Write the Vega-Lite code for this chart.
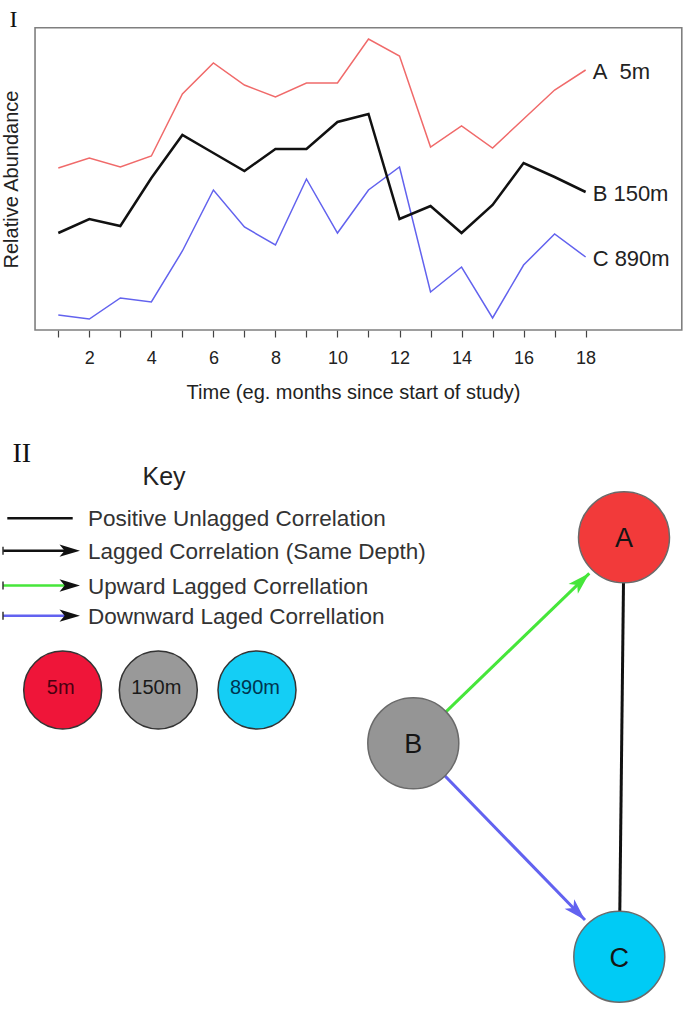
{
  "$schema": "https://vega.github.io/schema/vega-lite/v6.json",
  "width": 683,
  "height": 1009,
  "autosize": {"type": "none"},
  "padding": 0,
  "background": "white",
  "config": {"view": {"stroke": null}, "font": "Liberation Sans", "axis": {"grid": false}},
  "datasets": {
    "abundance": [
      {"series": "A", "t": 1, "v": 162}, {"series": "A", "t": 2, "v": 172}, {"series": "A", "t": 3, "v": 163},
      {"series": "A", "t": 4, "v": 174}, {"series": "A", "t": 5, "v": 236}, {"series": "A", "t": 6, "v": 267},
      {"series": "A", "t": 7, "v": 245}, {"series": "A", "t": 8, "v": 233}, {"series": "A", "t": 9, "v": 247},
      {"series": "A", "t": 10, "v": 247}, {"series": "A", "t": 11, "v": 291}, {"series": "A", "t": 12, "v": 274},
      {"series": "A", "t": 13, "v": 183}, {"series": "A", "t": 14, "v": 204}, {"series": "A", "t": 15, "v": 182},
      {"series": "A", "t": 16, "v": 211}, {"series": "A", "t": 17, "v": 240}, {"series": "A", "t": 18, "v": 260},
      {"series": "B", "t": 1, "v": 97}, {"series": "B", "t": 2, "v": 111}, {"series": "B", "t": 3, "v": 104},
      {"series": "B", "t": 4, "v": 152}, {"series": "B", "t": 5, "v": 195}, {"series": "B", "t": 6, "v": 177},
      {"series": "B", "t": 7, "v": 159}, {"series": "B", "t": 8, "v": 181}, {"series": "B", "t": 9, "v": 181},
      {"series": "B", "t": 10, "v": 208}, {"series": "B", "t": 11, "v": 216}, {"series": "B", "t": 12, "v": 111},
      {"series": "B", "t": 13, "v": 124}, {"series": "B", "t": 14, "v": 97}, {"series": "B", "t": 15, "v": 125},
      {"series": "B", "t": 16, "v": 167}, {"series": "B", "t": 17, "v": 153}, {"series": "B", "t": 18, "v": 138},
      {"series": "C", "t": 1, "v": 15}, {"series": "C", "t": 2, "v": 11}, {"series": "C", "t": 3, "v": 32},
      {"series": "C", "t": 4, "v": 28}, {"series": "C", "t": 5, "v": 79}, {"series": "C", "t": 6, "v": 140},
      {"series": "C", "t": 7, "v": 103}, {"series": "C", "t": 8, "v": 85}, {"series": "C", "t": 9, "v": 151},
      {"series": "C", "t": 10, "v": 97}, {"series": "C", "t": 11, "v": 140}, {"series": "C", "t": 12, "v": 163},
      {"series": "C", "t": 13, "v": 38}, {"series": "C", "t": 14, "v": 63}, {"series": "C", "t": 15, "v": 12},
      {"series": "C", "t": 16, "v": 65}, {"series": "C", "t": 17, "v": 96}, {"series": "C", "t": 18, "v": 73}
    ],
    "seriesLabels": [
      {"series": "A", "label": "A\u00a0\u00a05m"},
      {"series": "B", "label": "B 150m"},
      {"series": "C", "label": "C 890m"}
    ],
    "nodes": [
      {"node": "A", "depth": "5m", "x": 624, "y": 107.3},
      {"node": "B", "depth": "150m", "x": 413.3, "y": 313.3},
      {"node": "C", "depth": "890m", "x": 619.3, "y": 526.7}
    ],
    "edges": [
      {"from": "A", "to": "C", "kind": "unlagged", "x": 624, "y": 107.3, "x2": 619.3, "y2": 526.7},
      {"from": "B", "to": "A", "kind": "upward", "x": 413.3, "y": 313.3, "x2": 589.3, "y2": 143.3},
      {"from": "B", "to": "C", "kind": "downward", "x": 413.3, "y": 313.3, "x2": 585, "y2": 490}
    ],
    "key": [
      {"kind": "unlagged", "label": "Positive Unlagged Correlation", "y": 88.3},
      {"kind": "lagged", "label": "Lagged Correlation (Same Depth)", "y": 120.7},
      {"kind": "upward", "label": "Upward Lagged Correllation", "y": 155.5},
      {"kind": "downward", "label": "Downward Laged Correllation", "y": 185.7}
    ],
    "depths": [
      {"depth": "5m", "x": 62.7, "y": 260},
      {"depth": "150m", "x": 158.3, "y": 260},
      {"depth": "890m", "x": 257, "y": 260}
    ],
    "annotations": [
      {"text": "I", "x": 9.6, "y": -403.3},
      {"text": "II", "x": 12.5, "y": 32},
      {"text": "Key", "x": 164, "y": 55}
    ]
  },
  "layer": [
    {
      "layer": [
        {
          "data": {"name": "abundance"},
          "transform": [{"filter": "datum.series !== 'B'"}],
          "mark": {"type": "line", "strokeWidth": 1.5},
          "encoding": {
            "x": {
              "field": "t", "type": "quantitative",
              "scale": {"domain": [-0.8794, 21.139], "nice": false, "zero": false},
              "axis": {
                "title": "Time (eg. months since start of study)", "orient": "bottom", "offset": -679,
                "domain": false, "values": [1, 2, 3, 4, 5, 6, 7, 8, 9, 10, 11, 12, 13, 14, 15, 16, 17, 18],
                "tickSize": 7, "tickWidth": 1.2, "tickColor": "#444444",
                "labelExpr": "datum.value % 2 === 0 ? datum.label : ''",
                "labelFontSize": 18, "labelColor": "#222222", "labelPadding": 12,
                "labelOverlap": false, "labelFlush": false,
                "titleFontSize": 20, "titleFontWeight": "normal", "titleColor": "#222222",
                "titlePadding": 15, "titleX": 353
              }
            },
            "y": {
              "field": "v", "type": "quantitative",
              "scale": {"domain": [-679, 330], "nice": false, "zero": false},
              "axis": {
                "title": "Relative Abundance", "orient": "left", "offset": -35,
                "domain": false, "ticks": false, "labels": false,
                "titleFontSize": 20, "titleFontWeight": "normal", "titleColor": "#222222",
                "titlePadding": 14, "titleY": 179
              }
            },
            "color": {"field": "series", "type": "nominal", "scale": {"domain": ["A", "B", "C"], "range": ["#f06a6a", "#111111", "#6262ee"]}, "legend": null}
          }
        },
        {
          "data": {"values": [{}]},
          "mark": {"type": "rect", "fill": "white", "fillOpacity": 0, "stroke": "#7f7f7f", "strokeWidth": 1.6},
          "encoding": {
            "x": {"datum": 0.25, "type": "quantitative", "scale": {"domain": [-0.8794, 21.139], "nice": false, "zero": false}},
            "x2": {"datum": 21.1},
            "y": {"datum": 0, "type": "quantitative", "scale": {"domain": [-679, 330], "nice": false, "zero": false}},
            "y2": {"datum": 302.3}
          }
        },
        {
          "data": {"name": "abundance"},
          "transform": [{"filter": "datum.series === 'B'"}],
          "mark": {"type": "line", "strokeWidth": 2.5},
          "encoding": {
            "x": {"field": "t", "type": "quantitative", "scale": {"domain": [-0.8794, 21.139], "nice": false, "zero": false}},
            "y": {"field": "v", "type": "quantitative", "scale": {"domain": [-679, 330], "nice": false, "zero": false}},
            "color": {"field": "series", "type": "nominal", "scale": {"domain": ["A", "B", "C"], "range": ["#f06a6a", "#111111", "#6262ee"]}, "legend": null}
          }
        },
        {
          "data": {"name": "abundance"},
          "transform": [
            {"filter": "datum.t === 18"},
            {"lookup": "series", "from": {"data": {"name": "seriesLabels"}, "key": "series", "fields": ["label"]}}
          ],
          "mark": {"type": "text", "align": "left", "baseline": "middle", "dx": 7, "dy": 2, "fontSize": 22, "color": "#222222"},
          "encoding": {
            "x": {"field": "t", "type": "quantitative", "scale": {"domain": [-0.8794, 21.139], "nice": false, "zero": false}},
            "y": {"field": "v", "type": "quantitative", "scale": {"domain": [-679, 330], "nice": false, "zero": false}},
            "text": {"field": "label"}
          }
        }
      ]
    },
    {
      "layer": [
        {
          "data": {"name": "edges"},
          "mark": {"type": "rule", "strokeWidth": 3},
          "encoding": {
            "x": {"field": "x", "type": "quantitative", "scale": {"domain": [0, 683], "nice": false, "zero": false}, "axis": null},
            "y": {"field": "y", "type": "quantitative", "scale": {"domain": [-430, 579], "reverse": true, "nice": false, "zero": false}, "axis": null},
            "x2": {"field": "x2"},
            "y2": {"field": "y2"},
            "stroke": {"field": "kind", "type": "nominal", "scale": {"domain": ["unlagged", "lagged", "upward", "downward"], "range": ["#111111", "#111111", "#46e63a", "#6262f0"]}, "legend": null}
          }
        },
        {
          "data": {"name": "edges"},
          "transform": [{"filter": "datum.kind === 'upward'"}],
          "mark": {"type": "point", "shape": "M0,0L-2,-0.6L-1.5,0L-2,0.6Z", "filled": true, "opacity": 1, "fill": "#46e63a", "size": 500, "angle": -44},
          "encoding": {
            "x": {"field": "x2", "type": "quantitative", "scale": {"domain": [0, 683], "nice": false, "zero": false}, "axis": null},
            "y": {"field": "y2", "type": "quantitative", "scale": {"domain": [-430, 579], "reverse": true, "nice": false, "zero": false}, "axis": null}
          }
        },
        {
          "data": {"name": "edges"},
          "transform": [{"filter": "datum.kind === 'downward'"}],
          "mark": {"type": "point", "shape": "M0,0L-2,-0.6L-1.5,0L-2,0.6Z", "filled": true, "opacity": 1, "fill": "#6262f0", "size": 500, "angle": 45.8},
          "encoding": {
            "x": {"field": "x2", "type": "quantitative", "scale": {"domain": [0, 683], "nice": false, "zero": false}, "axis": null},
            "y": {"field": "y2", "type": "quantitative", "scale": {"domain": [-430, 579], "reverse": true, "nice": false, "zero": false}, "axis": null}
          }
        },
        {
          "data": {"name": "nodes"},
          "mark": {"type": "point", "shape": "circle", "filled": true, "opacity": 1, "size": 8281, "stroke": "#6a6a6a", "strokeWidth": 1.5},
          "encoding": {
            "x": {"field": "x", "type": "quantitative", "scale": {"domain": [0, 683], "nice": false, "zero": false}, "axis": null},
            "y": {"field": "y", "type": "quantitative", "scale": {"domain": [-430, 579], "reverse": true, "nice": false, "zero": false}, "axis": null},
            "color": {"field": "node", "type": "nominal", "scale": {"domain": ["A", "B", "C"], "range": ["#f23a3a", "#959595", "#00cbf5"]}, "legend": null}
          }
        },
        {
          "data": {"name": "nodes"},
          "mark": {"type": "text", "align": "center", "baseline": "middle", "dy": 2, "fontSize": 27, "color": "#151515"},
          "encoding": {
            "x": {"field": "x", "type": "quantitative", "scale": {"domain": [0, 683], "nice": false, "zero": false}, "axis": null},
            "y": {"field": "y", "type": "quantitative", "scale": {"domain": [-430, 579], "reverse": true, "nice": false, "zero": false}, "axis": null},
            "text": {"field": "node"}
          }
        },
        {
          "data": {"name": "annotations"},
          "transform": [{"filter": "datum.text === 'I'"}],
          "mark": {"type": "text", "align": "left", "baseline": "alphabetic", "font": "Liberation Serif", "fontSize": 24, "color": "#111111"},
          "encoding": {
            "x": {"field": "x", "type": "quantitative", "scale": {"domain": [0, 683], "nice": false, "zero": false}, "axis": null},
            "y": {"field": "y", "type": "quantitative", "scale": {"domain": [-430, 579], "reverse": true, "nice": false, "zero": false}, "axis": null},
            "text": {"field": "text"}
          }
        },
        {
          "data": {"name": "annotations"},
          "transform": [{"filter": "datum.text === 'II'"}],
          "mark": {"type": "text", "align": "left", "baseline": "alphabetic", "font": "Liberation Serif", "fontSize": 28, "color": "#111111"},
          "encoding": {
            "x": {"field": "x", "type": "quantitative", "scale": {"domain": [0, 683], "nice": false, "zero": false}, "axis": null},
            "y": {"field": "y", "type": "quantitative", "scale": {"domain": [-430, 579], "reverse": true, "nice": false, "zero": false}, "axis": null},
            "text": {"field": "text"}
          }
        },
        {
          "data": {"name": "annotations"},
          "transform": [{"filter": "datum.text === 'Key'"}],
          "mark": {"type": "text", "align": "center", "baseline": "alphabetic", "fontSize": 25, "color": "#222222"},
          "encoding": {
            "x": {"field": "x", "type": "quantitative", "scale": {"domain": [0, 683], "nice": false, "zero": false}, "axis": null},
            "y": {"field": "y", "type": "quantitative", "scale": {"domain": [-430, 579], "reverse": true, "nice": false, "zero": false}, "axis": null},
            "text": {"field": "text"}
          }
        },
        {
          "data": {"name": "key"},
          "transform": [{"filter": "datum.kind === 'unlagged'"}],
          "mark": {"type": "rule", "strokeWidth": 2.5},
          "encoding": {
            "x": {"datum": 7.3, "type": "quantitative", "scale": {"domain": [0, 683], "nice": false, "zero": false}, "axis": null},
            "x2": {"datum": 72.7},
            "y": {"field": "y", "type": "quantitative", "scale": {"domain": [-430, 579], "reverse": true, "nice": false, "zero": false}, "axis": null},
            "stroke": {"field": "kind", "type": "nominal", "scale": {"domain": ["unlagged", "lagged", "upward", "downward"], "range": ["#111111", "#111111", "#46e63a", "#6262f0"]}, "legend": null}
          }
        },
        {
          "data": {"name": "key"},
          "transform": [{"filter": "datum.kind !== 'unlagged'"}],
          "mark": {"type": "rule", "strokeWidth": 2.5},
          "encoding": {
            "x": {"datum": 3, "type": "quantitative", "scale": {"domain": [0, 683], "nice": false, "zero": false}, "axis": null},
            "x2": {"datum": 70},
            "y": {"field": "y", "type": "quantitative", "scale": {"domain": [-430, 579], "reverse": true, "nice": false, "zero": false}, "axis": null},
            "stroke": {"field": "kind", "type": "nominal", "scale": {"domain": ["unlagged", "lagged", "upward", "downward"], "range": ["#111111", "#111111", "#46e63a", "#6262f0"]}, "legend": null}
          }
        },
        {
          "data": {"name": "key"},
          "transform": [{"filter": "datum.kind !== 'unlagged'"}],
          "mark": {"type": "point", "shape": "M0,-1L0,1", "filled": false, "opacity": 1, "stroke": "#333333", "strokeWidth": 1.5, "size": 64},
          "encoding": {
            "x": {"datum": 3, "type": "quantitative", "scale": {"domain": [0, 683], "nice": false, "zero": false}, "axis": null},
            "y": {"field": "y", "type": "quantitative", "scale": {"domain": [-430, 579], "reverse": true, "nice": false, "zero": false}, "axis": null}
          }
        },
        {
          "data": {"name": "key"},
          "transform": [{"filter": "datum.kind !== 'unlagged'"}],
          "mark": {"type": "point", "shape": "M0,0L-2,-0.6L-1.5,0L-2,0.6Z", "filled": true, "opacity": 1, "fill": "#111111", "size": 420, "angle": 0},
          "encoding": {
            "x": {"datum": 80, "type": "quantitative", "scale": {"domain": [0, 683], "nice": false, "zero": false}, "axis": null},
            "y": {"field": "y", "type": "quantitative", "scale": {"domain": [-430, 579], "reverse": true, "nice": false, "zero": false}, "axis": null}
          }
        },
        {
          "data": {"name": "key"},
          "mark": {"type": "text", "align": "left", "baseline": "middle", "dy": 1, "fontSize": 22.5, "color": "#333333"},
          "encoding": {
            "x": {"datum": 88, "type": "quantitative", "scale": {"domain": [0, 683], "nice": false, "zero": false}, "axis": null},
            "y": {"field": "y", "type": "quantitative", "scale": {"domain": [-430, 579], "reverse": true, "nice": false, "zero": false}, "axis": null},
            "text": {"field": "label"}
          }
        },
        {
          "data": {"name": "depths"},
          "mark": {"type": "point", "shape": "circle", "filled": true, "opacity": 1, "size": 6084, "stroke": "#333333", "strokeWidth": 1.5},
          "encoding": {
            "x": {"field": "x", "type": "quantitative", "scale": {"domain": [0, 683], "nice": false, "zero": false}, "axis": null},
            "y": {"field": "y", "type": "quantitative", "scale": {"domain": [-430, 579], "reverse": true, "nice": false, "zero": false}, "axis": null},
            "fill": {"field": "depth", "type": "nominal", "scale": {"domain": ["5m", "150m", "890m"], "range": ["#ef1539", "#999999", "#14cef5"]}, "legend": null}
          }
        },
        {
          "data": {"name": "depths"},
          "transform": [{"filter": "datum.depth === '5m'"}],
          "mark": {"type": "text", "align": "center", "baseline": "middle", "dx": -2, "dy": -2, "fontSize": 20, "color": "#4a0010"},
          "encoding": {
            "x": {"field": "x", "type": "quantitative", "scale": {"domain": [0, 683], "nice": false, "zero": false}, "axis": null},
            "y": {"field": "y", "type": "quantitative", "scale": {"domain": [-430, 579], "reverse": true, "nice": false, "zero": false}, "axis": null},
            "text": {"field": "depth"}
          }
        },
        {
          "data": {"name": "depths"},
          "transform": [{"filter": "datum.depth === '150m'"}],
          "mark": {"type": "text", "align": "center", "baseline": "middle", "dx": -2, "dy": -2, "fontSize": 20, "color": "#1a1a1a"},
          "encoding": {
            "x": {"field": "x", "type": "quantitative", "scale": {"domain": [0, 683], "nice": false, "zero": false}, "axis": null},
            "y": {"field": "y", "type": "quantitative", "scale": {"domain": [-430, 579], "reverse": true, "nice": false, "zero": false}, "axis": null},
            "text": {"field": "depth"}
          }
        },
        {
          "data": {"name": "depths"},
          "transform": [{"filter": "datum.depth === '890m'"}],
          "mark": {"type": "text", "align": "center", "baseline": "middle", "dx": -2, "dy": -2, "fontSize": 20, "color": "#003550"},
          "encoding": {
            "x": {"field": "x", "type": "quantitative", "scale": {"domain": [0, 683], "nice": false, "zero": false}, "axis": null},
            "y": {"field": "y", "type": "quantitative", "scale": {"domain": [-430, 579], "reverse": true, "nice": false, "zero": false}, "axis": null},
            "text": {"field": "depth"}
          }
        }
      ]
    }
  ],
  "resolve": {
    "scale": {"x": "independent", "y": "independent", "color": "independent"},
    "axis": {"x": "independent", "y": "independent"}
  }
}
